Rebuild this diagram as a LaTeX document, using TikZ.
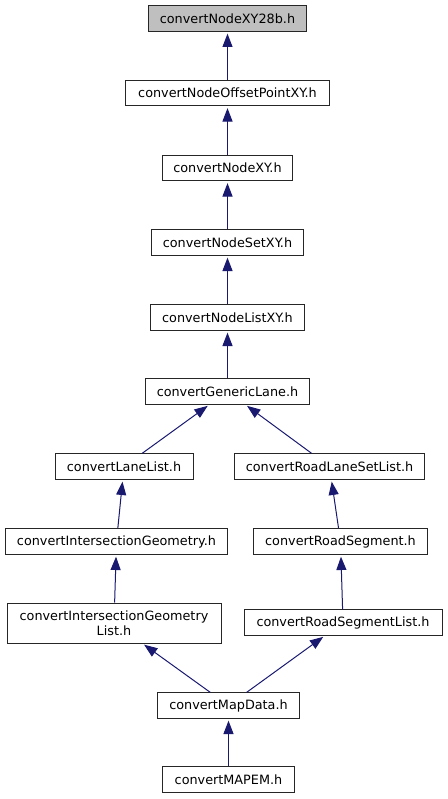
\documentclass[tikz,border=0pt]{standalone}
\usepackage{fontspec}
\setmainfont{DejaVu Sans}
\usepackage{tikz}
\usetikzlibrary{arrows.meta}

\definecolor{edgeblue}{RGB}{25,25,112}
\definecolor{headgray}{RGB}{191,191,191}

\tikzset{
  filebox/.style={draw=black!85, line width=0.75pt, fill=white, inner sep=0pt,
    minimum height=19pt, font=\fontsize{9.6}{11.5}\selectfont, align=center},
  headbox/.style={filebox, fill=headgray},
  incl/.style={draw=edgeblue, line width=0.75pt,
    -{Triangle[length=10pt, width=7.5pt, fill=edgeblue]}, shorten >=1.5pt}
}

\begin{document}
\begin{tikzpicture}[x=0.75pt, y=-0.75pt]
      \useasboundingbox (0,0) rectangle (447,799);

      % Main column
      \node[headbox, minimum width=119pt] (xy28b) at (227.5, 18.5) {convertNodeXY28b.h};
      \node[filebox, minimum width=153pt] (offsetxy) at (227.5, 93) {convertNodeOffsetPointXY.h};
      \node[filebox, minimum width=98pt] (nodexy) at (227.5, 168) {convertNodeXY.h};
      \node[filebox, minimum width=114pt] (nodesetxy) at (227.5, 242.5) {convertNodeSetXY.h};
      \node[filebox, minimum width=116pt] (nodelistxy) at (227.5, 317.5) {convertNodeListXY.h};
      \node[filebox, minimum width=123pt] (genlane) at (227.5, 391.5) {convertGenericLane.h};

      % Left branch
      \node[filebox, minimum width=103.5pt] (lanelist) at (124, 466.5) {convertLaneList.h};
      \node[filebox, minimum width=167pt] (isecgeo) at (116.5, 541.5) {convertIntersectionGeometry.h};
      \node[filebox, minimum width=160.5pt, minimum height=30pt] (isecgeolist) at (114, 623) {convertIntersectionGeometry\\List.h};

      % Right branch
      \node[filebox, minimum width=143pt] (lanesetlist) at (329.5, 466.5) {convertRoadLaneSetList.h};
      \node[filebox, minimum width=131pt] (roadseg) at (340.5, 541.5) {convertRoadSegment.h};
      \node[filebox, minimum width=148.5pt] (roadseglist) at (343, 622.5) {convertRoadSegmentList.h};

      % Bottom
      \node[filebox, minimum width=107pt] (mapdata) at (228.5, 705.5) {convertMapData.h};
      \node[filebox, minimum width=99pt] (mapem) at (228.5, 779.5) {convertMAPEM.h};

      % Include edges
      \draw[incl] (offsetxy) -- (xy28b);
      \draw[incl] (nodexy) -- (offsetxy);
      \draw[incl] (nodesetxy) -- (nodexy);
      \draw[incl] (nodelistxy) -- (nodesetxy);
      \draw[incl] (genlane) -- (nodelistxy);
      \draw[incl] (lanelist) -- (genlane);
      \draw[incl] (lanesetlist) -- (genlane);
      \draw[incl] (isecgeo) -- (lanelist);
      \draw[incl] (roadseg) -- (lanesetlist);
      \draw[incl] (isecgeolist) -- (isecgeo);
      \draw[incl] (roadseglist) -- (roadseg);
      \draw[incl] (mapdata) -- (isecgeolist);
      \draw[incl] (mapdata) -- (roadseglist);
      \draw[incl] (mapem) -- (mapdata);
\end{tikzpicture}
\end{document}
